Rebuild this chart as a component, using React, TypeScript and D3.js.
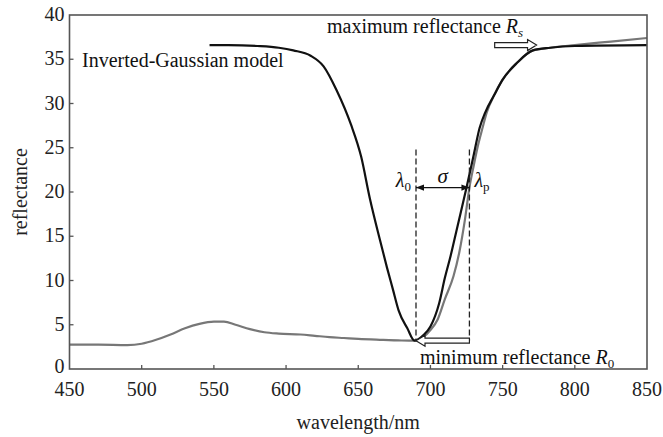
import React from 'react';
import * as d3 from 'd3';

// Measured canopy reflectance spectrum (grey curve)
const measuredWl = [450, 470, 490, 500, 510, 520, 530, 540, 550, 557, 565, 575, 585, 595, 610, 620, 630, 640, 650, 665, 680, 689, 695, 700, 705, 710, 716, 720, 724, 727, 730, 733, 736, 739, 744, 750, 760, 771, 783, 800, 825, 850];
const measuredR = [2.75, 2.75, 2.7, 2.85, 3.3, 3.9, 4.6, 5.1, 5.35, 5.35, 5.0, 4.5, 4.15, 4.0, 3.9, 3.75, 3.6, 3.5, 3.4, 3.3, 3.22, 3.2, 3.6, 4.4, 5.6, 7.9, 10.5, 13.2, 17.0, 20.5, 23.0, 25.3, 27.2, 29.0, 30.9, 32.7, 34.6, 36.0, 36.3, 36.6, 37.0, 37.4];

// Inverted-Gaussian model fit (black curve)
const modelWl = [547, 560, 580, 595, 605, 617, 626, 635, 645, 652, 658, 665, 670, 674, 678, 684, 689, 695, 700, 706, 710, 714, 718, 722, 725, 730, 734, 738, 744, 750, 760, 771, 783, 800, 850];
const modelR = [36.6, 36.6, 36.5, 36.3, 36.0, 35.4, 34.2, 31.5, 27.6, 24.0, 19.3, 14.6, 11.4, 9.0, 6.6, 4.6, 3.2, 3.8, 4.8, 7.4, 10.3, 12.8, 15.6, 18.4, 20.5, 24.2, 27.2, 29.0, 30.9, 32.7, 34.6, 36.0, 36.3, 36.5, 36.6];

const xTicks = [450, 500, 550, 600, 650, 700, 750, 800, 850];
const yTicks = [0, 5, 10, 15, 20, 25, 30, 35, 40];

// Model parameters marked on the chart
const lambda0 = 690;
const lambdaP = 727;
const r0 = 3.2;
const rs = 36.6;
const sigmaLevel = 20.5;
const guideTop = 24.8;
const rsArrowFrom = 744.5;
const rsArrowTo = 773.5;

const W = 663;
const H = 437;
const SERIF = '"Liberation Serif", "Times New Roman", serif';

// Outline of a hollow block arrow from (x1,y) to the tip at (x2,y)
function blockArrow(x1: number, x2: number, y: number) {
  const dir = x2 > x1 ? 1 : -1;
  const headLen = 9;
  const bodyH = 2.5;
  const headH = 5.5;
  const hx = x2 - dir * headLen;
  return `M${x1},${y - bodyH}L${hx},${y - bodyH}L${hx},${y - headH}L${x2},${y}L${hx},${y + headH}L${hx},${y + bodyH}L${x1},${y + bodyH}Z`;
}

export default function App() {
  const x = d3.scaleLinear().domain([450, 850]).range([69.5, 647]);
  const y = d3.scaleLinear().domain([0, 40]).range([369, 15]);

  const line = d3
    .line<[number, number]>()
    .x((d) => x(d[0]))
    .y((d) => y(d[1]))
    .curve(d3.curveMonotoneX);

  const measured = line(measuredWl.map((w, i) => [w, measuredR[i]]) as [number, number][]) || '';
  const model = line(modelWl.map((w, i) => [w, modelR[i]]) as [number, number][]) || '';

  const axisColor = '#555';
  const [x0, x1] = x.range();
  const [yb, yt] = y.range();

  return (
    <svg
      width={W}
      height={H}
      style={{ position: 'absolute', left: 0, top: 0, background: '#fff' }}
      fontFamily={SERIF}
    >
      <defs>
        <marker id="ah" viewBox="0 0 10 10" refX="10" refY="5" markerWidth="10" markerHeight="8" markerUnits="userSpaceOnUse" orient="auto-start-reverse">
          <path d="M0,1L10,5L0,9Z" fill="#111" />
        </marker>
      </defs>

      {/* curves */}
      <path d={measured} fill="none" stroke="#777" strokeWidth={2.2} />
      <path d={model} fill="none" stroke="#111" strokeWidth={2.2} />

      {/* guide lines at lambda0 and lambdaP */}
      <line x1={x(lambda0)} x2={x(lambda0)} y1={y(guideTop)} y2={y(r0)} stroke="#222" strokeWidth={1.3} strokeDasharray="6,3" />
      <line x1={x(lambdaP)} x2={x(lambdaP)} y1={y(guideTop)} y2={y(r0)} stroke="#222" strokeWidth={1.3} strokeDasharray="6,3" />

      {/* sigma double arrow */}
      <line
        x1={x(lambda0)}
        x2={x(lambdaP)}
        y1={y(sigmaLevel)}
        y2={y(sigmaLevel)}
        stroke="#111"
        strokeWidth={1.4}
        markerStart="url(#ah)"
        markerEnd="url(#ah)"
      />
      <text x={(x(lambda0) + x(lambdaP)) / 2} y={y(sigmaLevel) - 5} fontSize={21} fontStyle="italic" textAnchor="middle" fill="#111">σ</text>
      <text x={x(lambda0) - 5} y={y(sigmaLevel) - 1} fontSize={20} textAnchor="end" fill="#111">
        <tspan fontStyle="italic">λ</tspan>
        <tspan fontSize={13} dy={4}>0</tspan>
      </text>
      <text x={x(lambdaP) + 5} y={y(sigmaLevel) - 1} fontSize={20} fill="#111">
        <tspan fontStyle="italic">λ</tspan>
        <tspan fontSize={13} dy={4}>p</tspan>
      </text>

      {/* block arrows for Rs and R0 */}
      <path d={blockArrow(x(rsArrowFrom), x(rsArrowTo), y(rs))} fill="#fff" stroke="#222" strokeWidth={1.2} />
      <path d={blockArrow(x(lambdaP), x(lambda0), y(r0))} fill="#fff" stroke="#222" strokeWidth={1.2} />

      {/* annotations */}
      <text x={82} y={67} fontSize={20} fill="#111">Inverted-Gaussian model</text>
      <text x={327} y={33} fontSize={20} fill="#111">
        maximum reflectance <tspan fontStyle="italic">R</tspan>
        <tspan fontStyle="italic" fontSize={13} dy={4}>s</tspan>
      </text>
      <text x={420} y={364} fontSize={20} fill="#111">
        minimum reflectance <tspan fontStyle="italic">R</tspan>
        <tspan fontSize={13} dy={4}>0</tspan>
      </text>

      {/* frame */}
      <rect x={x0} y={yt} width={x1 - x0} height={yb - yt} fill="none" stroke={axisColor} strokeWidth={1.6} />

      {/* x axis ticks */}
      {xTicks.map((t) => (
        <g key={`x${t}`}>
          {t !== 450 && t !== 850 && (
            <line x1={x(t)} x2={x(t)} y1={yb} y2={yb - 4} stroke={axisColor} strokeWidth={1.3} />
          )}
          <text x={x(t)} y={yb + 27} fontSize={20} textAnchor="middle" fill="#222">{t}</text>
        </g>
      ))}

      {/* y axis ticks */}
      {yTicks.map((t) => (
        <g key={`y${t}`}>
          {t !== 0 && t !== 40 && (
            <line x1={x0} x2={x0 + 4} y1={y(t)} y2={y(t)} stroke={axisColor} strokeWidth={1.3} />
          )}
          <text x={x0 - 5} y={y(t) + (t === 0 ? 4 : 6)} fontSize={20} textAnchor="end" fill="#222">{t}</text>
        </g>
      ))}

      {/* axis titles */}
      <text x={(x0 + x1) / 2} y={429} fontSize={20} textAnchor="middle" fill="#222">wavelength/nm</text>
      <text transform={`translate(27,${(yb + yt) / 2}) rotate(-90)`} fontSize={20} textAnchor="middle" fill="#222">reflectance</text>
    </svg>
  );
}
